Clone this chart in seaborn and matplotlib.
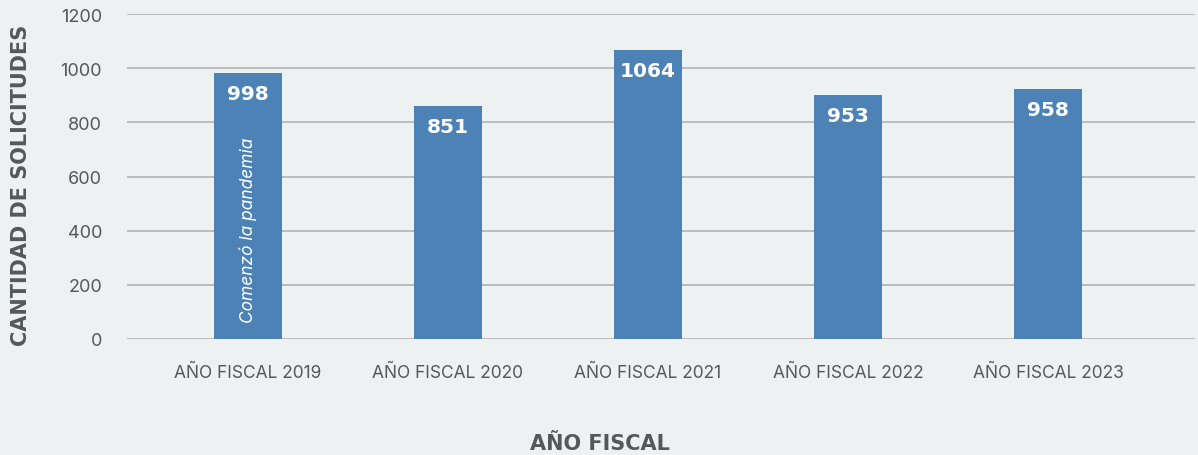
import matplotlib
matplotlib.use('Agg')
import matplotlib.pyplot as plt
import seaborn as sns

categories = ['AÑO FISCAL 2019', 'AÑO FISCAL 2020', 'AÑO FISCAL 2021',
              'AÑO FISCAL 2022', 'AÑO FISCAL 2023']
# bar heights as drawn in the picture, and the labels printed on them
heights = [984, 862, 1069, 903, 925]
labels = ['998', '851', '1064', '953', '958']
yticks = [0, 200, 400, 600, 800, 1000, 1200]

BG = '#EEF1F2'
BLUE = '#4C82B5'
GREY = '#555759'
HEAVY = ['DejaVu Sans']

sns.set_theme(style='white')
plt.rcParams['font.family'] = ['Inter', 'DejaVu Sans']

fig = plt.figure(figsize=(11.98, 4.56), dpi=100, facecolor=BG)
ax = fig.add_axes([127 / 1198, 1 - 339.7 / 456, (1195 - 127) / 1198, (339.7 - 15.3) / 456])
ax.set_facecolor(BG)

sns.barplot(x=categories, y=heights, color=BLUE, width=0.34, saturation=1,
            linewidth=0, ax=ax, zorder=3)

ax.set_ylim(0, 1200)
ax.set_xlim(-0.605, 4.735)
ax.set_yticks(yticks)
ax.yaxis.grid(True, color='#B3B3B3', linewidth=1.2, zorder=0)
ax.set_axisbelow(True)
for s in ax.spines.values():
    s.set_visible(False)
ax.tick_params(axis='y', length=0, pad=18, labelsize=13, labelcolor=GREY)
ax.tick_params(axis='x', length=0, pad=18, labelsize=12.5, labelcolor=GREY)

for p, lab in zip(ax.patches, labels):
    ax.text(p.get_x() + p.get_width() / 2, p.get_height() - 78, lab,
            ha='center', va='center', color='white', fontsize=14.5,
            family=HEAVY, fontweight='bold', zorder=4)

p0 = ax.patches[0]
ax.text(p0.get_x() + p0.get_width() / 2, 60, 'Comenzó la pandemia', rotation=90,
        ha='center', va='bottom', color='white', fontsize=12.5, fontstyle='italic',
        zorder=4)

ax.set_xlabel('AÑO FISCAL', fontsize=15, fontweight='bold', color=GREY, family=HEAVY)
ax.set_ylabel('CANTIDAD DE SOLICITUDES', fontsize=15, fontweight='bold', color=GREY,
              family=HEAVY)
ax.xaxis.set_label_coords((600 - 127) / 1068, (339.7 - 434) / 324.4)
ax.yaxis.set_label_coords((31 - 127) / 1068, (339.7 - 185) / 324.4)

fig.savefig('out.png', dpi=100, facecolor=BG)
